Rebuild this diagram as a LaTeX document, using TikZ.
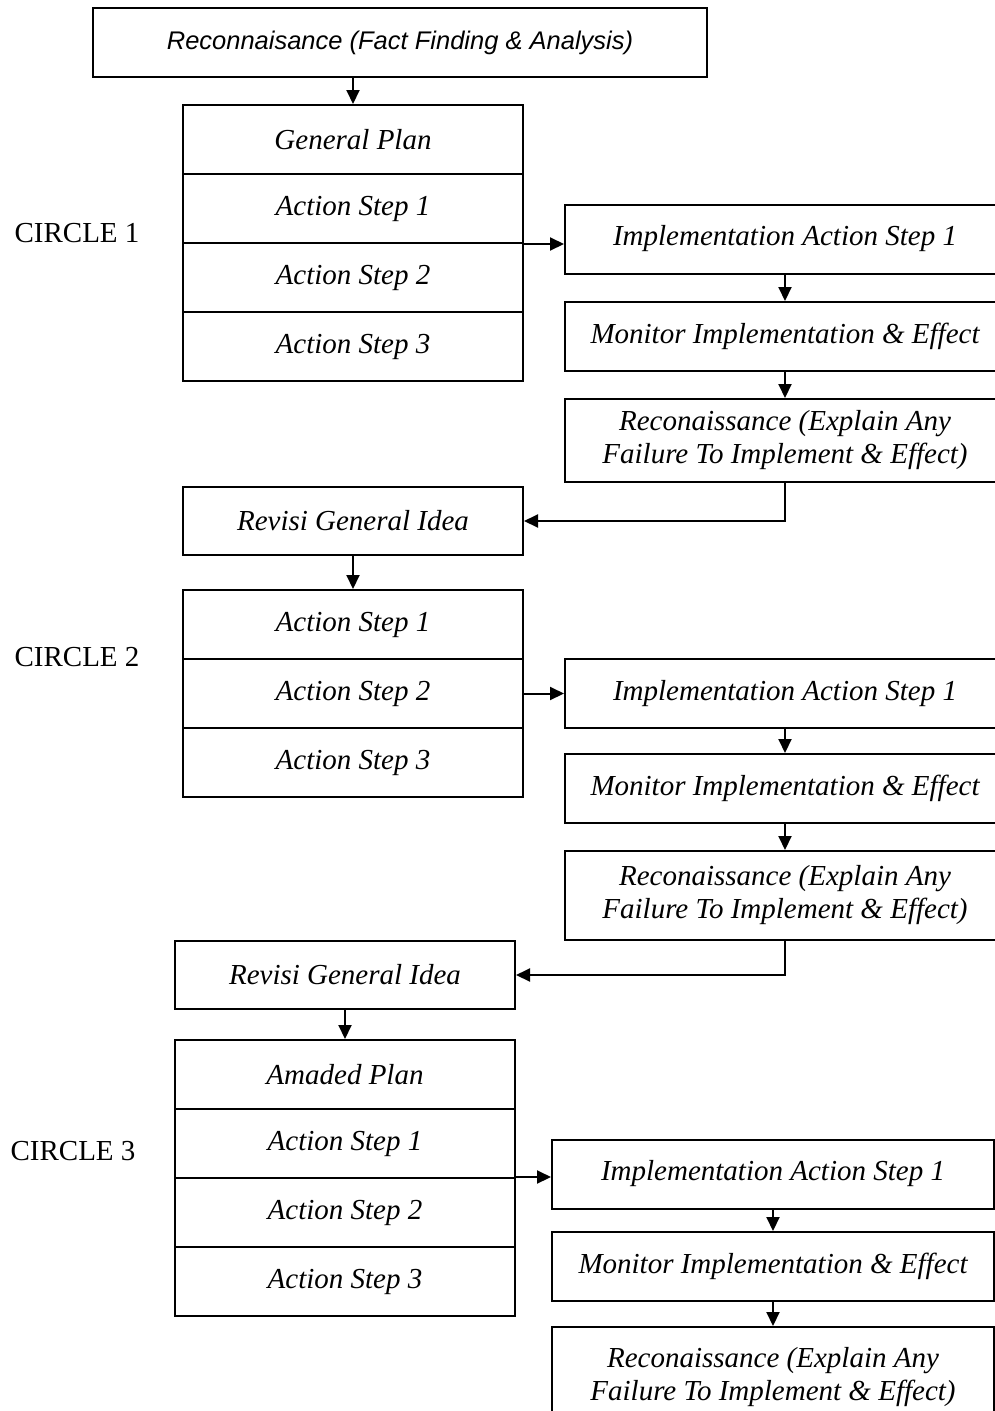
\documentclass[tikz,border=0pt]{standalone}
\usepackage{fontspec}
\setmainfont{Liberation Serif}
\setsansfont{Liberation Sans}
\usetikzlibrary{arrows.meta}

\tikzset{
  box/.style={draw, line width=2pt, inner sep=0pt, align=center,
    font=\fontsize{29}{33}\selectfont\itshape},
  row/.style={box, minimum width=340, minimum height=69},
  stepbox/.style={box, minimum width=440, minimum height=69},
  circlab/.style={font=\fontsize{29}{33}\selectfont},
  link/.style={line width=2pt, -{Triangle[length=14pt,width=13pt]}}
}

\begin{document}
\begin{tikzpicture}[x=1pt, y=-1pt]

\clip (0,0) rectangle (995,1411);

\node[box, minimum width=614, minimum height=69,
  font=\sffamily\itshape\fontsize{25.5}{30}\selectfont] at (400,42.5) (rec) {Reconnaisance (Fact Finding \& Analysis)};

% circle 1
\node[circlab] at (77,233) (c1) {CIRCLE 1};
\node[row] at (353,139.5) (gp1) {General Plan};
\node[row] at (353,208.5) (as11) {Action Step 1};
\node[row] at (353,277.5) (as12) {Action Step 2};
\node[row] at (353,346.5) (as13) {Action Step 3};

\node[stepbox] at (785,239) (impl1) {Implementation Action Step 1};
\node[stepbox] at (785,336.5) (mon1) {Monitor Implementation \& Effect};
\node[stepbox, minimum height=83] at (785,440.5) (recx1) {Reconaissance (Explain Any\\Failure To Implement \& Effect)};
\node[row, minimum height=68] at (353,521) (rev1) {Revisi General Idea};

% circle 2
\node[circlab] at (77,657) (c2) {CIRCLE 2};
\node[row] at (353,624.5) (as21) {Action Step 1};
\node[row] at (353,693.5) (as22) {Action Step 2};
\node[row] at (353,762.5) (as23) {Action Step 3};

\node[stepbox] at (785,693.5) (impl2) {Implementation Action Step 1};
\node[stepbox] at (785,788.5) (mon2) {Monitor Implementation \& Effect};
\node[stepbox, minimum height=89] at (785,895.5) (recx2) {Reconaissance (Explain Any\\Failure To Implement \& Effect)};
\node[row, minimum height=68] at (345,975) (rev2) {Revisi General Idea};

% circle 3
\node[circlab] at (73,1151) (c3) {CIRCLE 3};
\node[row] at (345,1074.5) (ap3) {Amaded Plan};
\node[row] at (345,1143.5) (as31) {Action Step 1};
\node[row] at (345,1212.5) (as32) {Action Step 2};
\node[row] at (345,1281.5) (as33) {Action Step 3};

\node[stepbox, minimum width=442] at (773,1174) (impl3) {Implementation Action Step 1};
\node[stepbox, minimum width=442] at (773,1266.5) (mon3) {Monitor Implementation \& Effect};
\node[stepbox, minimum width=442, minimum height=100] at (773,1377) (recx3) {Reconaissance (Explain Any\\Failure To Implement \& Effect)};

\draw[link] (gp1.north |- rec.south) -- (gp1.north);
\draw[link] (as11.south east) -- (impl1.west |- as11.south east);
\draw[link] (impl1.south) -- (mon1.north);
\draw[link] (mon1.south) -- (recx1.north);
\draw[link] (recx1.south) |- (rev1.east);
\draw[link] (rev1.south) -- (as21.north);

\draw[link] (as22.east) -- (impl2.west);
\draw[link] (impl2.south) -- (mon2.north);
\draw[link] (mon2.south) -- (recx2.north);
\draw[link] (recx2.south) |- (rev2.east);
\draw[link] (rev2.south) -- (ap3.north);

\draw[link] (as32.north east) -- (impl3.west |- as32.north east);
\draw[link] (impl3.south) -- (mon3.north);
\draw[link] (mon3.south) -- (recx3.north);

\end{tikzpicture}
\end{document}
